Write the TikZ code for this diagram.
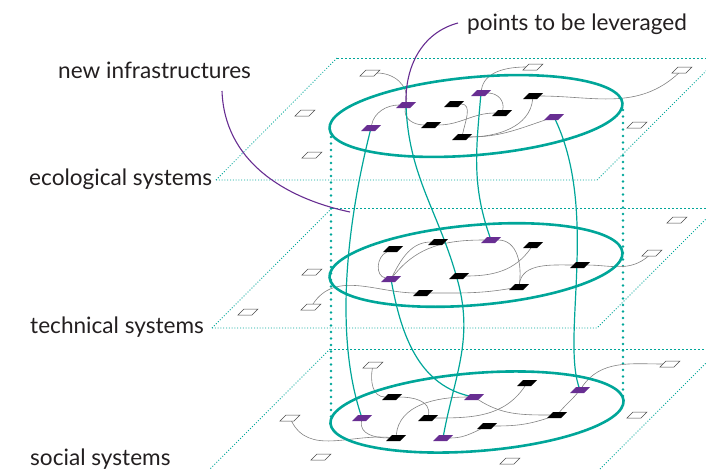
\documentclass[tikz,border=0pt]{standalone}
\usepackage{fontspec}
\setmainfont{Lato}
\definecolor{layerteal}{RGB}{0,166,153}
\definecolor{keypurple}{RGB}{104,46,146}
\definecolor{labelgrey}{RGB}{35,31,32}
\definecolor{linkgrey}{RGB}{130,130,130}
\pgfdeclarelayer{back}
\pgfsetlayers{back,main}
\begin{document}
\begin{tikzpicture}[x=1pt,y=1pt,
  para/.style={rectangle, xslant=1, minimum width=14pt, minimum height=6pt,
    inner sep=0pt, outer sep=0pt},
  wnode/.style={para, draw=black!70, fill=white, line width=0.5pt},
  bnode/.style={para, fill=black},
  pnode/.style={para, fill=keypurple},
  link/.style={draw=linkgrey, line width=0.6pt},
  ring/.style={draw=layerteal, line width=2.6pt},
  riser/.style={draw=layerteal, line width=1.2pt},
  edgeline/.style={draw=layerteal, line width=0.8pt, dash pattern=on 1pt off 1.8pt},
  topline/.style={draw=layerteal, line width=0.8pt, dash pattern=on 2.2pt off 1.8pt},
  pillardot/.style={fill=layerteal},
  callout/.style={draw=keypurple, line width=1.1pt},
  label/.style={anchor=base west, inner sep=0pt, text=labelgrey, font=\fontsize{22.6}{25}\selectfont}
]
\useasboundingbox (0,0) rectangle (706,-469);
\clip (0,0) rectangle (706,-469);

% ---------- nodes: ecological layer ----------
\node[wnode] (w1) at (370,-73) {};
\node[wnode] (w2) at (533,-67) {};
\node[wnode] (w3) at (682,-70) {};
\node[wnode] (w4) at (305,-113) {};
\node[wnode] (w5) at (312,-155) {};
\node[wnode] (w6) at (637,-125) {};
\node[pnode] (p1) at (406,-105) {};
\node[pnode] (p2) at (481,-93) {};
\node[pnode] (p3) at (371,-128) {};
\node[pnode] (p4) at (554,-117) {};
\node[bnode] (b1) at (454,-104) {};
\node[bnode] (b2) at (533,-96) {};
\node[bnode] (b3) at (502,-113) {};
\node[bnode] (b4) at (431,-125) {};
\node[bnode] (b5) at (462,-137) {};

% ---------- nodes: technical layer ----------
\node[wnode] (mw1) at (677,-220) {};
\node[wnode] (mw2) at (652,-253) {};
\node[wnode] (mw3) at (312,-272) {};
\node[wnode] (mw4) at (311,-307) {};
\node[wnode] (mw5) at (248,-312) {};
\node[pnode] (mp1) at (391,-279) {};
\node[pnode] (mp2) at (491,-240) {};
\node[bnode] (mb1) at (393,-249) {};
\node[bnode] (mb2) at (438,-242) {};
\node[bnode] (mb3) at (533,-245) {};
\node[bnode] (mb4) at (459,-276) {};
\node[bnode] (mb5) at (580,-265) {};
\node[bnode] (mb6) at (519,-287) {};
\node[bnode] (mb7) at (423,-293) {};

% ---------- nodes: social layer ----------
\node[wnode] (bw1) at (373,-365) {};
\node[wnode] (bw2) at (670,-364) {};
\node[wnode] (bw3) at (290,-418) {};
\node[wnode] (bw4) at (637,-415) {};
\node[wnode] (bw5) at (321,-457) {};
\node[wnode] (bw6) at (510,-461) {};
\node[pnode] (bp1) at (362,-418) {};
\node[pnode] (bp2) at (474,-397) {};
\node[pnode] (bp3) at (443,-438) {};
\node[pnode] (bp4) at (580,-390) {};
\node[bnode] (bb1) at (392,-397) {};
\node[bnode] (bb2) at (527,-383) {};
\node[bnode] (bb3) at (428,-418) {};
\node[bnode] (bb4) at (557,-415) {};
\node[bnode] (bb5) at (487,-426) {};
\node[bnode] (bb6) at (396,-438) {};

% ---------- labels ----------
\node[label] (lnew) at (58,-78) {new infrastructures};
\node[label] (llev) at (467,-30) {points to be leveraged};
\node[label] (leco) at (29,-185) {ecological systems};
\node[label] (ltec) at (30,-333) {technical systems};
\node[label] (lsoc) at (30,-465) {social systems};

\begin{pgfonlayer}{back}
% ---------- layer planes ----------
\draw[edgeline] (216,-180) -- (597,-180) -- (719,-58);
\draw[edgeline] (216,-180) -- (337,-58);
\draw[topline] (337,-58) -- (719,-58);

\draw[edgeline] (212,-328) -- (597,-328) -- (717,-208);
\draw[edgeline] (212,-328) -- (332,-208);
\draw[topline] (332,-208) -- (717,-208);

\draw[edgeline] (330,-349) -- (210,-469);
\draw[edgeline] (600,-469) -- (720,-349);
\draw[topline] (330,-349) -- (720,-349);

% ---------- vertical dotted pillars ----------
\foreach \k in {0,...,43}
  \fill[pillardot] (331,-137-6.5*\k) circle [radius=1.4];
\foreach \k in {0,...,44}
  \fill[pillardot] (623,-110-6.5*\k) circle [radius=1.4];

% ---------- thin links inside each layer ----------
\begin{scope}[link]
  % ecological
  \draw (w1) to[out=0,in=90] (p1);
  \draw (p1) to[out=-90,in=180] (b4);
  \draw (p1) to[out=180,in=90] (p3);
  \draw (b4) to[out=0,in=180] (b3);
  \draw (b1) to[out=0,in=90] (b5);
  \draw (p2) to[out=0,in=90] (b3);
  \draw (p2) to[out=90,in=180] (w2);
  \draw (b5) to[out=0,in=-90] (b2);
  \draw (b5) to[out=0,in=200] (p4);
  \draw (b2) to[out=0,in=225] (w3);
  % technical
  \draw (mb1) to[out=210,in=170] (mp1);
  \draw (mp1) to[out=70,in=180] (mb2);
  \draw (mp1) to[out=55,in=180] (mp2);
  \draw (mp2) to[out=0,in=90] (mb6);
  \draw (mb4) to[out=0,in=240] (mb3);
  \draw (mb6) to[out=90,in=180] (mb5);
  \draw (mb5) to[out=0,in=225] (mw2);
  \draw (mw4) to[out=60,in=180] (mb7);
  \draw (mb7) to[out=0,in=190] (mb6);
  % social
  \draw (bw1) to[out=-90,in=180] (bb1);
  \draw (bb1) to[out=0,in=90] (bb3);
  \draw (bp1) to[out=-90,in=180] (bb6);
  \draw (bw3) to[out=-60,in=175] (bb6);
  \draw (bb6) to[out=90,in=180] (bp2);
  \draw (bb3) to[out=0,in=240] (bb2);
  \draw (bp2) to[out=-30,in=180] (bb4);
  \draw (bb4) to[out=60,in=240] (bp4);
  \draw (bp4) to[out=60,in=180] (bw2);
  \draw (bp3) to[out=0,in=210] (bb5);
  \draw (bb5) to[out=0,in=200] (bb4);
\end{scope}

% ---------- rings around each layer ----------
\draw[ring, rotate around={5:(476,-116)}] (476,-116) ellipse [x radius=147, y radius=39];
\draw[ring, rotate around={4.9:(476,-265)}] (476,-265) ellipse [x radius=147, y radius=40];
\draw[ring, rotate around={4.5:(477,-412)}] (477,-412) ellipse [x radius=147, y radius=39];

% ---------- risers between layers ----------
\coordinate (bend1) at (458,-282);
\draw[riser] (p3.center) .. controls (345,-230) and (335,-340) .. (bp1.center);
\draw[riser] (p1.center) to[out=-88,in=105] (bend1) to[out=-75,in=80] (bp3.center);
\draw[riser] (p2.center) to[out=-95,in=110] (mp2.center);
\draw[riser] (p4.center) .. controls (600,-210) and (560,-340) .. (bp4.center);
\draw[riser] (mp1.center) to[out=-80,in=170] (bp2.center);

% ---------- call-out lines ----------
\coordinate (newtip) at (222,-91);
\coordinate (newend) at (350,-212);
\coordinate (levtip) at (458,-23);
\draw[callout] (newtip) to[out=-88,in=168] (newend);
\draw[callout] (levtip) to[out=195,in=92] (p1.center);
\end{pgfonlayer}
\end{tikzpicture}
\end{document}
